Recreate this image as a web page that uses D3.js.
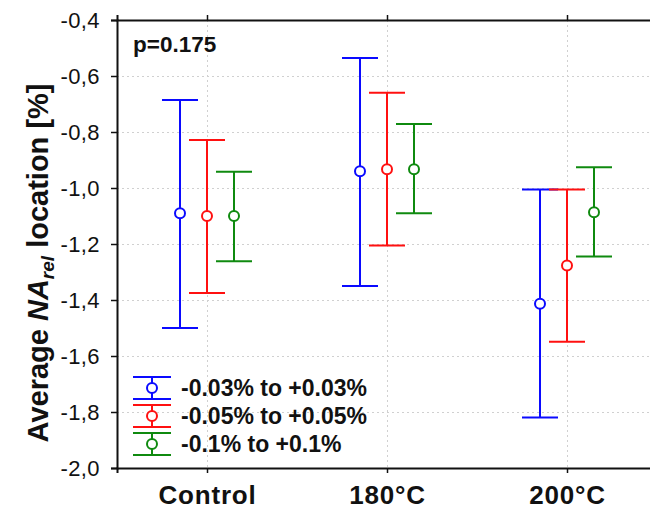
<!DOCTYPE html>
<html>
<head>
<meta charset="utf-8">
<script src="https://cdn.jsdelivr.net/npm/d3@7/dist/d3.min.js"></script>
<style>
  html, body { margin: 0; padding: 0; background: #fff; }
  svg { display: block; font-family: "Liberation Sans", Arial, sans-serif; }
</style>
</head>
<body>
<script>
// Groups along the x axis
const categories = ["Control", "180°C", "200°C"];

// Tolerance bands (one error-bar series each)
const seriesNames = ["-0.03% to +0.03%", "-0.05% to +0.05%", "-0.1% to +0.1%"];
const seriesColors = ["#0a0aff", "#ff1010", "#0f8a0f"];

// Means and upper/lower interval limits per series, in category order
const meanNarrow = [-1.09, -0.94, -1.413];
const upperNarrow = [-0.686, -0.536, -1.005];
const lowerNarrow = [-1.50, -1.35, -1.82];

const meanMid = [-1.10, -0.933, -1.277];
const upperMid = [-0.829, -0.66, -1.005];
const lowerMid = [-1.375, -1.205, -1.549];

const meanWide = [-1.10, -0.933, -1.087];
const upperWide = [-0.942, -0.771, -0.926];
const lowerWide = [-1.262, -1.09, -1.245];

const yTicks = [-2.0, -1.8, -1.6, -1.4, -1.2, -1.0, -0.8, -0.6, -0.4];
const pLabel = "p=0.175";

const seriesData = [
  { name: seriesNames[0], color: seriesColors[0], mean: meanNarrow, upper: upperNarrow, lower: lowerNarrow },
  { name: seriesNames[1], color: seriesColors[1], mean: meanMid, upper: upperMid, lower: lowerMid },
  { name: seriesNames[2], color: seriesColors[2], mean: meanWide, upper: upperWide, lower: lowerWide }
];

const W = 650, H = 515;
const plot = { left: 117, top: 20, right: 657, bottom: 468 };

const svg = d3.select("body").append("svg").attr("width", W).attr("height", H);

const x = d3.scalePoint().domain(categories).range([plot.left, plot.right]).padding(0.5);
const offset = d3.scalePoint().domain(seriesNames).range([-27, 27]);
const y = d3.scaleLinear().domain([-2.0, -0.4]).range([plot.bottom, plot.top]);

const fmt = v => d3.format(".1f")(v).replace(".", ",").replace("−", "-");

// dotted grid
const grid = svg.append("g").attr("stroke", "#d0d0d0").attr("stroke-width", 1).attr("stroke-dasharray", "2,3");
grid.selectAll("line.h").data(yTicks.slice(1, -1)).join("line")
  .attr("x1", plot.left).attr("x2", plot.right)
  .attr("y1", d => Math.round(y(d)) + 0.5).attr("y2", d => Math.round(y(d)) + 0.5);
grid.selectAll("line.v").data(categories).join("line")
  .attr("x1", d => Math.round(x(d)) + 0.5).attr("x2", d => Math.round(x(d)) + 0.5)
  .attr("y1", plot.top).attr("y2", plot.bottom);

// axes
const yAxis = d3.axisLeft(y).tickValues(yTicks).tickSize(6).tickPadding(11).tickFormat(fmt);
const gy = svg.append("g").attr("transform", `translate(${plot.left},0)`).call(yAxis);
gy.select(".domain").attr("stroke", "#111").attr("stroke-width", 2);
gy.selectAll(".tick line").attr("stroke", "#111").attr("stroke-width", 1.5);
gy.selectAll(".tick text")
  .attr("font-size", 22).attr("fill", "#111")
  .attr("letter-spacing", "0.4px")
  .attr("font-family", "'Liberation Sans', Arial, sans-serif");

const xAxis = d3.axisBottom(x).tickSize(5).tickPadding(13);
const gx = svg.append("g").attr("transform", `translate(0,${plot.bottom})`).call(xAxis);
gx.select(".domain").attr("stroke", "#111").attr("stroke-width", 2);
gx.selectAll(".tick line").attr("stroke", "#111").attr("stroke-width", 1.5);
gx.selectAll(".tick text")
  .attr("font-size", 26).attr("font-weight", "bold").attr("fill", "#111")
  .attr("letter-spacing", "0.8px")
  .attr("font-family", "'Liberation Sans', Arial, sans-serif");

const xTop = d3.axisTop(x).tickSize(5).tickFormat("");
const gt = svg.append("g").attr("transform", `translate(0,${plot.top})`).call(xTop);
gt.select(".domain").attr("stroke", "#111").attr("stroke-width", 2);
gt.selectAll(".tick line").attr("stroke", "#111").attr("stroke-width", 1.5);

// error bars
const capHalf = 18;
seriesData.forEach(s => {
  const g = svg.append("g").attr("stroke", s.color).attr("stroke-width", 2).attr("fill", "none");
  categories.forEach((c, i) => {
    const cx = x(c) + offset(s.name);
    g.append("line").attr("x1", cx).attr("x2", cx).attr("y1", y(s.upper[i])).attr("y2", y(s.lower[i]));
    g.append("line").attr("x1", cx - capHalf).attr("x2", cx + capHalf).attr("y1", y(s.upper[i])).attr("y2", y(s.upper[i]));
    g.append("line").attr("x1", cx - capHalf).attr("x2", cx + capHalf).attr("y1", y(s.lower[i])).attr("y2", y(s.lower[i]));
    g.append("circle").attr("cx", cx).attr("cy", y(s.mean[i])).attr("r", 5).attr("fill", "#fff");
  });
});

// p-value
svg.append("text").attr("x", 133).attr("y", 52).attr("font-size", 22.5).attr("font-weight", "bold")
  .attr("fill", "#111").text(pLabel);

// legend
const legend = svg.append("g");
const legX = 152, legTop = 388, legStep = 28;
seriesData.forEach((s, i) => {
  const cy = legTop + i * legStep;
  const g = legend.append("g").attr("stroke", s.color).attr("stroke-width", 2).attr("fill", "none");
  g.append("line").attr("x1", legX).attr("x2", legX).attr("y1", cy - 11).attr("y2", cy + 11);
  g.append("line").attr("x1", legX - 19).attr("x2", legX + 19).attr("y1", cy - 11).attr("y2", cy - 11);
  g.append("line").attr("x1", legX - 19).attr("x2", legX + 19).attr("y1", cy + 11).attr("y2", cy + 11);
  g.append("circle").attr("cx", legX).attr("cy", cy).attr("r", 5).attr("fill", "#fff");
  legend.append("text").attr("x", 181).attr("y", cy + 8).attr("font-size", 23).attr("font-weight", "bold")
    .attr("fill", "#111").text(s.name);
});

// y-axis title with subscript
const yt = svg.append("text")
  .attr("transform", "translate(48,263) rotate(-90)")
  .attr("text-anchor", "middle")
  .attr("font-size", 29).attr("font-weight", "bold").attr("fill", "#111");
yt.append("tspan").text("Average ");
yt.append("tspan").attr("font-style", "italic").text("NA");
yt.append("tspan").attr("font-style", "italic").attr("font-size", 19).attr("dy", 6).text("rel");
yt.append("tspan").attr("dy", -6).text(" location [%]");
</script>
</body>
</html>
